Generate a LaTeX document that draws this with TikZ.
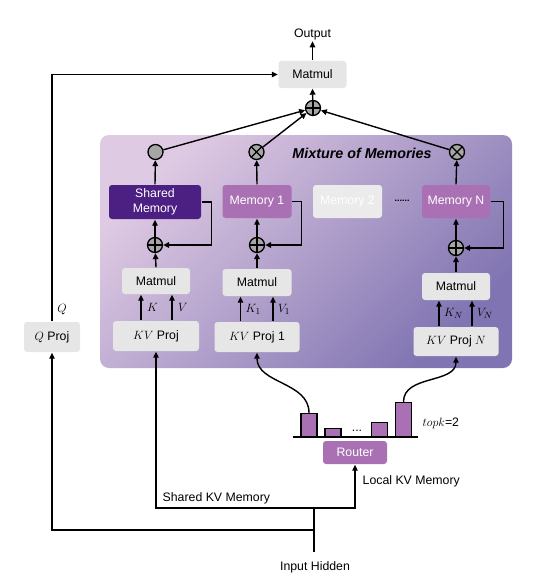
\documentclass[tikz,border=0pt]{standalone}
\usepackage{fontspec}
\setmainfont{Liberation Sans}
\usetikzlibrary{arrows.meta,calc}
\definecolor{boxgray}{HTML}{E6E6E6}
\definecolor{memtwo}{HTML}{EBEBEB}
\definecolor{darkpurp}{HTML}{4B2082}
\definecolor{midpurp}{HTML}{A970B3}
\definecolor{panelA}{HTML}{DFCAE3}
\definecolor{panelB}{HTML}{8074B2}
\definecolor{symgray}{HTML}{A6A6A6}
\begin{document}
\begin{tikzpicture}[x=1pt,y=1pt,
  >={Triangle[length=6pt,width=5.5pt]},
  line width=1.4pt,
  every node/.style={font=\fontsize{12.3}{15}\selectfont},
  gbox/.style={fill=boxgray, rounded corners=3pt, inner sep=0pt, align=center},
  pbox/.style={fill=midpurp, rounded corners=3pt, inner sep=0pt, align=center, text=white},
  dbox/.style={fill=darkpurp, rounded corners=3pt, inner sep=0pt, align=center, text=white},
  lbox/.style={fill=memtwo, rounded corners=3pt, inner sep=0pt, align=center, text=white},
  symb/.style={circle, draw, fill=symgray, minimum size=15pt, inner sep=0pt, line width=1.3pt},
  oplus/.style={symb, path picture={
      \draw[line width=1.3pt] (path picture bounding box.north) -- (path picture bounding box.south)
        (path picture bounding box.west) -- (path picture bounding box.east);}},
  otimes/.style={symb, path picture={
      \draw[line width=1.3pt] (path picture bounding box.north west) -- (path picture bounding box.south east)
        (path picture bounding box.south west) -- (path picture bounding box.north east);}},
  barbox/.style={fill=midpurp, draw, line width=1.2pt, anchor=south, minimum width=16pt, inner sep=0pt},
  lab/.style={inner sep=1pt}
]
\useasboundingbox (0,0) rectangle (537,-586);

% panel
\shade[rounded corners=9pt, top color=panelA, bottom color=panelB, shading angle=45]
  (100,-135) rectangle (512,-368);

% top
\node[lab] (out) at (312.5,-34) {Output};
\node[gbox, minimum width=68pt, minimum height=27pt] (mm0) at (312.5,-74.5) {Matmul};
\node[oplus] (plus0) at (313,-108) {};

\node[font=\fontsize{14.3}{16}\selectfont\bfseries\itshape] (title) at (362,-153) {Mixture of Memories};

\node[symb] (g0) at (155.5,-152) {};
\node[otimes] (x1) at (256.5,-152) {};
\node[otimes] (xN) at (457,-152) {};

% memory boxes
\node[dbox, minimum width=92pt, minimum height=34pt] (sm) at (155,-202) {Shared\\Memory};
\node[pbox, minimum width=69pt, minimum height=33pt] (m1) at (257,-201.5) {Memory 1};
\node[lbox, minimum width=69pt, minimum height=33pt] (m2) at (347.5,-201.5) {Memory 2};
\node[pbox, minimum width=68pt, minimum height=33pt] (mN) at (456,-201.5) {Memory N};
\node[font=\fontsize{9}{10}\selectfont\bfseries] (dots) at (402,-201) {......};

% plus circles
\node[oplus] (p1) at (155,-245) {};
\node[oplus] (p2) at (257,-245) {};
\node[oplus] (pN) at (456,-248) {};

% matmul boxes
\node[gbox, minimum width=68pt, minimum height=26pt] (mmS) at (156,-281) {Matmul};
\node[gbox, minimum width=69pt, minimum height=27pt] (mm1) at (257,-282.5) {Matmul};
\node[gbox, minimum width=68pt, minimum height=27pt] (mmN) at (456,-286.5) {Matmul};

% KV proj boxes
\node[gbox, minimum width=86pt, minimum height=30pt] (kvS) at (156,-336) {$KV$ Proj};
\node[gbox, minimum width=85pt, minimum height=30pt] (kv1) at (257,-337) {$KV$ Proj 1};
\node[gbox, minimum width=85pt, minimum height=29pt] (kvN) at (456,-341.5) {$KV$ Proj $N$};

% Q proj
\node[gbox, minimum width=56pt, minimum height=30pt] (qproj) at (52,-337) {$Q$ Proj};

% router and bars
\node[pbox, minimum width=64pt, minimum height=23pt] (router) at (355,-452.5) {Router};
\node[barbox, minimum height=23pt] (bar1) at (309,-437) {};
\node[barbox, minimum height=8pt] (bar2) at (333,-437) {};
\node[barbox, minimum height=14pt] (bar3) at (379.5,-437) {};
\node[barbox, minimum height=34pt] (bar4) at (403.5,-437) {};
\coordinate (bl) at (293,-437);
\coordinate (br) at (418,-437);
\draw (bl) -- (br);
\node[lab] (bdots) at (357,-431) {...};
\node[lab, anchor=west] (topk) at (421,-423) {$topk$=2};

% bottom
\node[lab] (ih) at (315,-567) {Input Hidden};
\coordinate (ihs) at (314,-552);
\coordinate (j) at (314,-530);
\coordinate (jt) at (314,-508);
\draw (ihs) -- (jt);
\draw[->] (j) -| (qproj.south);
\draw[->] (jt) -| (kvS.south);
\draw[->] (jt) -| (router.south);
\node[lab, anchor=west] (skv) at (161,-498) {Shared KV Memory};
\node[lab, anchor=west] (lkv) at (361,-481) {Local KV Memory};

% curves from router bars
\draw[->] (bar1.north) to[out=90,in=-90] (kv1.south);
\draw[->] (bar4.north) to[out=90,in=-90] (kvN.south);

% K V arrows
\draw[->] ([xshift=-15pt]kvS.north) -- ([xshift=-15pt]mmS.south) node[midway, right=2pt] {$K$};
\draw[->] ([xshift=16pt]kvS.north) -- ([xshift=16pt]mmS.south) node[midway, right=2pt] {$V$};
\draw[->] ([xshift=-16.5pt]kv1.north) -- ([xshift=-16.5pt]mm1.south) node[midway, right=1pt] {$K_1$};
\draw[->] ([xshift=16pt]kv1.north) -- ([xshift=16pt]mm1.south) node[midway, right=1pt] {$V_1$};
\draw[->] ([xshift=-17pt]kvN.north) -- ([xshift=-17pt]mmN.south) node[midway, right=1pt] {$K_N$};
\draw[->] ([xshift=16pt]kvN.north) -- ([xshift=16pt]mmN.south) node[midway, right=1pt] {$V_N$};

% matmul to plus
\draw[->] (mmS.north) -- (p1);
\draw[->] (mm1.north) -- (p2);
\draw[->] (mmN.north) -- (pN);
% plus to memory
\draw[->] (p1) -- (sm.south);
\draw[->] (p2) -- (m1.south);
\draw[->] (pN) -- (mN.south);
% feedback
\draw[->] (sm.east) -- ++(9.5,0) |- (p1.east);
\draw[->] (m1.east) -- ++(9,0) |- (p2.east);
\draw[->] (mN.east) -- ++(12.5,0) |- (pN.east);
% memory to gates
\draw[->] (sm.north) -- (g0);
\draw[->] (m1.north) -- (x1);
\draw[->] (mN.north) -- (xN);
% gates to top plus
\draw[->] (g0) -- (plus0);
\draw[->] (x1) -- (plus0);
\draw[->] (xN) -- (plus0);
\draw[->] (plus0) -- (mm0.south);
\draw[->] (mm0.north) -- (out.south);
% Q path
\draw[->] (qproj.north) |- (mm0.west);
\node[lab] (qlab) at (62,-310) {$Q$};
\end{tikzpicture}
\end{document}
